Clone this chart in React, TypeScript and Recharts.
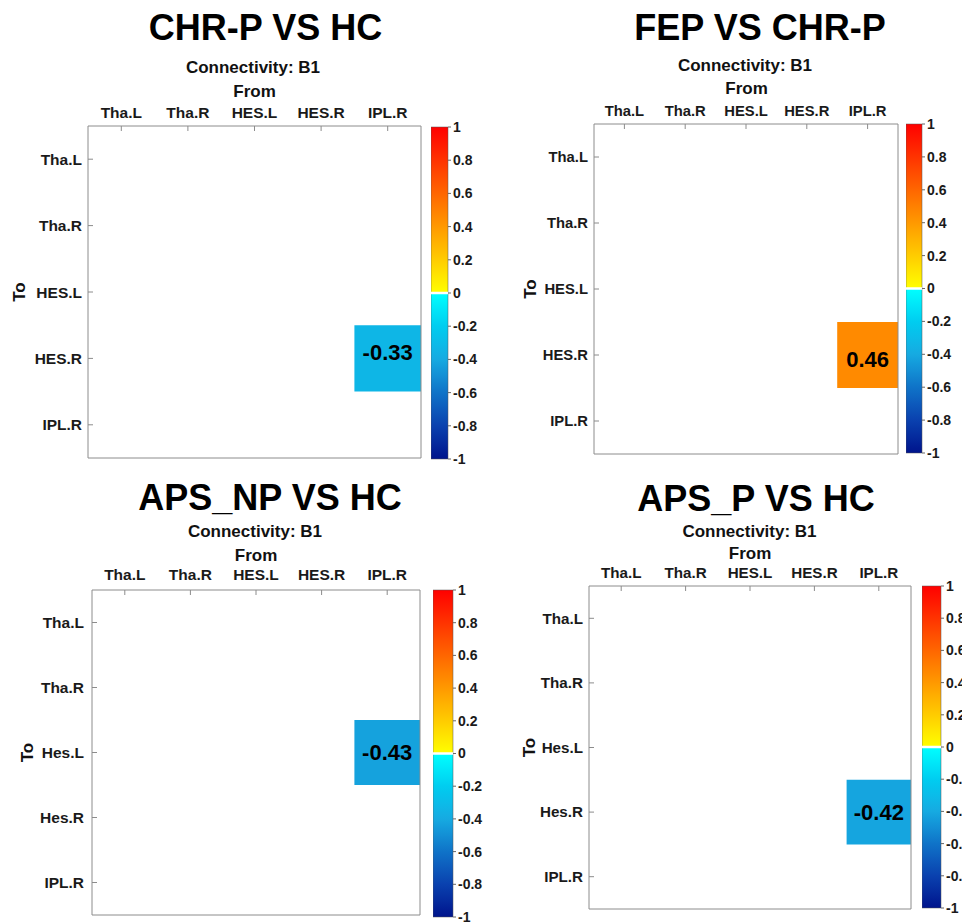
import React from 'react';
import { ScatterChart, Scatter, XAxis, YAxis, ReferenceArea, ReferenceLine } from 'recharts';

const FONT = '"Liberation Sans", Arial, Helvetica, sans-serif';

// ---- data ----
const fromLabels = ['Tha.L', 'Tha.R', 'HES.L', 'HES.R', 'IPL.R'];
const toLabelsUpper = ['Tha.L', 'Tha.R', 'HES.L', 'HES.R', 'IPL.R'];
const toLabelsMixed = ['Tha.L', 'Tha.R', 'Hes.L', 'Hes.R', 'IPL.R'];
const panelTitles = ['CHR-P VS HC', 'FEP VS CHR-P', 'APS_NP VS HC', 'APS_P VS HC'];
const panelRowLabels = [toLabelsUpper, toLabelsUpper, toLabelsMixed, toLabelsMixed];
const subtitle = 'Connectivity: B1';
const xAxisTitle = 'From';
const yAxisTitle = 'To';
const cellFrom = ['IPL.R', 'IPL.R', 'IPL.R', 'IPL.R'];
const cellTo = ['HES.R', 'HES.R', 'Hes.L', 'Hes.R'];
const cellValues = [-0.33, 0.46, -0.43, -0.42];
const colorbarTicks = [1, 0.8, 0.6, 0.4, 0.2, 0, -0.2, -0.4, -0.6, -0.8, -1];
const matrixTicks = [1, 2, 3, 4, 5];

// ---- layout (pixels) ----
const layout = [
  { box: [88, 126, 421, 458], bar: [431, 127, 448, 459], title: [265.5, 40], sub: [253, 73], from: [254.5, 97], toX: 25, labelGap: 8, rowGap: 6, valueDy: -6, fs: 15.5 },
  { box: [594, 124, 898, 454], bar: [906, 124, 922, 453], title: [760, 40], sub: [745, 71], from: [746.5, 94], toX: 536, labelGap: 8, rowGap: 6, valueDy: 4, fs: 14.8 },
  { box: [92, 590, 420, 915], bar: [433, 590, 453, 917], title: [270, 510], sub: [255, 537], from: [256, 561], toX: 33, labelGap: 10, rowGap: 8, valueDy: 0, fs: 15.5 },
  { box: [589, 586, 911, 909], bar: [922, 586, 941, 908], title: [756, 511], sub: [749.5, 537], from: [750, 559], toX: 535, labelGap: 8, rowGap: 6, valueDy: 0, fs: 15.2 },
];

// ---- colormap ----
const NEG_ANCHORS: [number, number[]][] = [
  [0, [0, 255, 255]],
  [-0.2, [0, 205, 240]],
  [-0.4, [22, 170, 225]],
  [-0.6, [15, 115, 200]],
  [-0.8, [10, 65, 175]],
  [-1, [0, 20, 140]],
];

function rgb(c: number[]) {
  return `rgb(${Math.round(c[0])},${Math.round(c[1])},${Math.round(c[2])})`;
}

function colorAt(v: number, negZero = false): string {
  if (v > 0 || (v === 0 && !negZero)) {
    return rgb([255, 255 * (1 - v), 0]);
  }
  for (let k = 0; k < NEG_ANCHORS.length - 1; k++) {
    const [va, ca] = NEG_ANCHORS[k];
    const [vb, cb] = NEG_ANCHORS[k + 1];
    if (v <= va && v >= vb) {
      const t = (va - v) / (va - vb);
      return rgb([0, 1, 2].map((j) => ca[j] + (cb[j] - ca[j]) * t));
    }
  }
  return rgb(NEG_ANCHORS[NEG_ANCHORS.length - 1][1]);
}

function gradientStops() {
  const stops: React.ReactNode[] = [];
  for (let k = 0; k <= 20; k++) {
    const v = 1 - k * 0.05;
    stops.push(<stop key={`p${k}`} offset={(1 - v) / 2} stopColor={colorAt(v)} />);
  }
  for (let k = 0; k <= 20; k++) {
    const v = -k * 0.05;
    stops.push(<stop key={`n${k}`} offset={(1 - v) / 2} stopColor={colorAt(v, true)} />);
  }
  return stops;
}

const axisStroke = '#8c8c8c';

const NoShape = () => null;

function Heatmap({ i }: { i: number }) {
  const L = layout[i];
  const [bl, bt, br, bb] = L.box;
  const W = br - bl;
  const H = bb - bt;
  const YW = 90;
  const XH = 40;
  const PAD = 4;
  const rows = panelRowLabels[i];
  const col = fromLabels.indexOf(cellFrom[i]) + 1;
  const row = rows.indexOf(cellTo[i]) + 1;
  const v = cellValues[i];
  const tickStyle = { fill: '#1a1a1a', fontSize: L.fs, fontWeight: 700, fontFamily: FONT };
  const pts = [{ x: col, y: row, v }];
  return (
    <div style={{ position: 'absolute', left: bl - YW, top: bt - XH }}>
      <ScatterChart
        width={YW + W + 1 + PAD}
        height={XH + H + 1 + PAD}
        margin={{ top: 0, left: 0, right: PAD, bottom: PAD }}
      >
        <XAxis
          xAxisId="top"
          dataKey="x"
          orientation="top"
          type="number"
          domain={[0.5, 5.5]}
          ticks={matrixTicks}
          height={XH}
          interval={0}
          allowDataOverflow
          tickFormatter={(t: number) => fromLabels[t - 1]}
          tickSize={-5}
          tickMargin={5 + L.labelGap}
          stroke={axisStroke}
          tick={tickStyle}
        />
        <XAxis
          xAxisId="bot"
          dataKey="x"
          orientation="bottom"
          type="number"
          domain={[0.5, 5.5]}
          ticks={matrixTicks}
          height={1}
          interval={0}
          allowDataOverflow
          tick={false}
          tickSize={-5}
          stroke={axisStroke}
        />
        <YAxis
          yAxisId="left"
          dataKey="y"
          orientation="left"
          type="number"
          reversed
          domain={[0.5, 5.5]}
          ticks={matrixTicks}
          width={YW}
          interval={0}
          allowDataOverflow
          tickFormatter={(t: number) => rows[t - 1]}
          tickSize={-5}
          tickMargin={5 + L.rowGap}
          stroke={axisStroke}
          tick={tickStyle}
        />
        <YAxis
          yAxisId="right"
          dataKey="y"
          orientation="right"
          type="number"
          reversed
          domain={[0.5, 5.5]}
          ticks={matrixTicks}
          width={1}
          interval={0}
          allowDataOverflow
          tick={false}
          tickSize={-5}
          stroke={axisStroke}
        />
        <Scatter xAxisId="top" yAxisId="left" data={pts} shape={NoShape} isAnimationActive={false} />
        <Scatter xAxisId="bot" yAxisId="right" data={pts} shape={NoShape} isAnimationActive={false} />
        <ReferenceArea
          xAxisId="top"
          yAxisId="left"
          x1={col - 0.5}
          x2={col + 0.5}
          y1={row - 0.5}
          y2={row + 0.5}
          fill={colorAt(v)}
          fillOpacity={1}
          stroke="none"
          label={{
            value: v.toFixed(2),
            position: 'center',
            fill: '#000',
            fontSize: 22,
            fontWeight: 700,
            fontFamily: FONT,
            dy: L.valueDy,
          }}
        />
      </ScatterChart>
    </div>
  );
}

function Colorbar({ i }: { i: number }) {
  const [x0, y0, x1, y1] = layout[i].bar;
  const BW = x1 - x0;
  const BH = y1 - y0;
  const LW = 40;
  const PV = 10;
  const gid = `cbar-grad-${i}`;
  const pts = [{ x: 0.5, y: 0 }];
  return (
    <div style={{ position: 'absolute', left: x0, top: y0 - PV }}>
      <ScatterChart
        width={BW + LW}
        height={BH + 2 * PV}
        margin={{ top: PV, bottom: PV, left: 0, right: 0 }}
      >
        <defs>
          <linearGradient id={gid} x1="0" y1="0" x2="0" y2="1">
            {gradientStops()}
          </linearGradient>
        </defs>
        <XAxis xAxisId="cb" dataKey="x" type="number" domain={[0, 1]} allowDataOverflow hide />
        <YAxis
          yAxisId="cb"
          dataKey="y"
          orientation="right"
          type="number"
          domain={[-1, 1]}
          allowDataOverflow
          ticks={colorbarTicks}
          width={LW}
          interval={0}
          axisLine={false}
          tickSize={3}
          tickMargin={2}
          tickLine={{ stroke: '#666' }}
          tick={{ fill: '#1a1a1a', fontSize: 14, fontWeight: 700, fontFamily: FONT }}
          tickFormatter={(t: number) => String(Math.round(t * 10) / 10)}
        />
        <Scatter xAxisId="cb" yAxisId="cb" data={pts} shape={NoShape} isAnimationActive={false} />
        <ReferenceArea
          xAxisId="cb"
          yAxisId="cb"
          x1={0}
          x2={1}
          y1={-1}
          y2={1}
          fill={`url(#${gid})`}
          fillOpacity={1}
          stroke="#555"
          strokeWidth={0.5}
        />
        <ReferenceLine xAxisId="cb" yAxisId="cb" y={0} stroke="#ffffff" strokeWidth={2.5} />
      </ScatterChart>
    </div>
  );
}

function Texts() {
  return (
    <svg
      width={962}
      height={922}
      style={{ position: 'absolute', left: 0, top: 0, pointerEvents: 'none' }}
      fontFamily={FONT}
    >
      {layout.map((L, i) => {
        const [, bt, , bb] = L.box;
        const cy = (bt + bb) / 2;
        return (
          <g key={i}>
            <text x={L.title[0]} y={L.title[1]} textAnchor="middle" fontSize={36} fontWeight={700} fill="#000">
              {panelTitles[i]}
            </text>
            <text x={L.sub[0]} y={L.sub[1]} textAnchor="middle" fontSize={17} fontWeight={700} fill="#111">
              {subtitle}
            </text>
            <text x={L.from[0]} y={L.from[1]} textAnchor="middle" fontSize={17} fontWeight={700} fill="#111">
              {xAxisTitle}
            </text>
            <text
              x={L.toX}
              y={cy}
              textAnchor="middle"
              fontSize={17}
              fontWeight={700}
              fill="#111"
              transform={`rotate(-90, ${L.toX}, ${cy})`}
            >
              {yAxisTitle}
            </text>
          </g>
        );
      })}
    </svg>
  );
}

export default function App() {
  return (
    <div
      style={{
        position: 'absolute',
        left: 0,
        top: 0,
        width: 962,
        height: 922,
        overflow: 'hidden',
        background: '#fff',
        fontFamily: FONT,
      }}
    >
      {layout.map((_, i) => (
        <React.Fragment key={i}>
          <Heatmap i={i} />
          <Colorbar i={i} />
        </React.Fragment>
      ))}
      <Texts />
    </div>
  );
}
